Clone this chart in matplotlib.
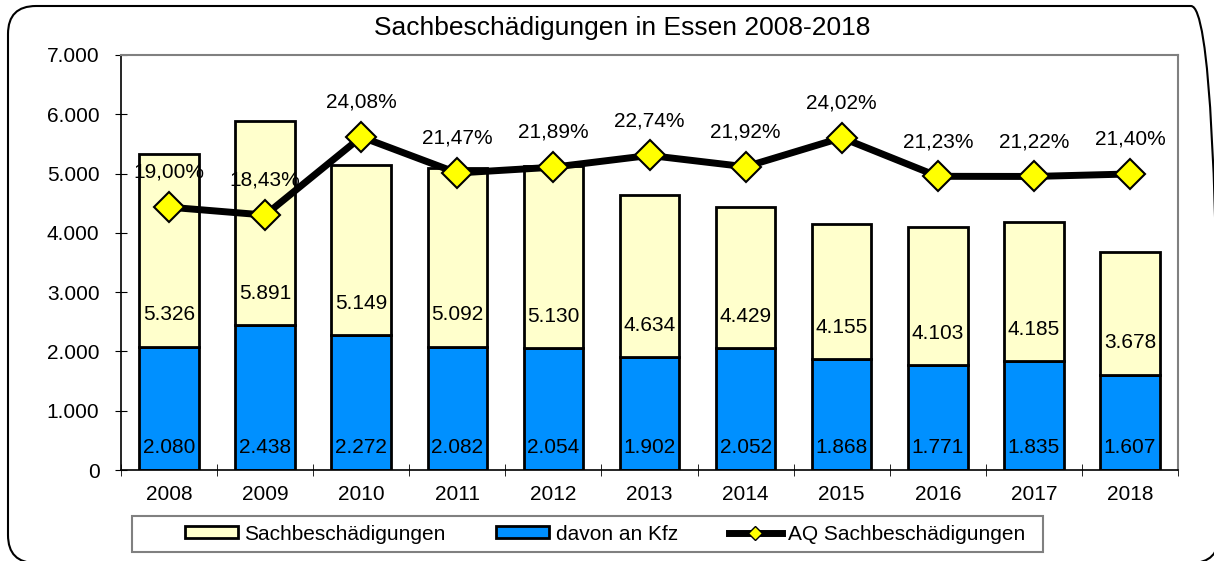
import matplotlib
matplotlib.use("Agg")
import matplotlib.pyplot as plt
from matplotlib.patches import FancyBboxPatch, Rectangle, Patch
from matplotlib.lines import Line2D
import numpy as np

years = ["2008", "2009", "2010", "2011", "2012", "2013", "2014", "2015", "2016", "2017", "2018"]
total = [5326, 5891, 5149, 5092, 5130, 4634, 4429, 4155, 4103, 4185, 3678]
kfz = [2080, 2438, 2272, 2082, 2054, 1902, 2052, 1868, 1771, 1835, 1607]
aq = [19.00, 18.43, 24.08, 21.47, 21.89, 22.74, 21.92, 24.02, 21.23, 21.22, 21.40]
yticks = [0, 1000, 2000, 3000, 4000, 5000, 6000, 7000]

plt.rcParams['font.family'] = ['Liberation Sans', 'DejaVu Sans']
FS = 15

W, H = 1214, 561
fig = plt.figure(figsize=(W / 100, H / 100), dpi=100)

def fx(px): return px / W
def fy(py): return 1 - py / H

# outer rounded frame (pixel coordinates), right/bottom edges just past the canvas
frame = FancyBboxPatch((8, H - 563), 1211, 557,
                       boxstyle="round,pad=0,rounding_size=28",
                       transform=None, fill=False, ec='black', lw=1.5)
fig.patches.append(frame)

ax = fig.add_axes([fx(121), fy(470), fx(1178) - fx(121), fy(55) - fy(470)])
x = np.arange(len(years))
bw = 0.62

def de(v):
    return f"{v:,}".replace(",", ".")

upper = [t - k for t, k in zip(total, kfz)]
ax.bar(x, kfz, bw, color='#0090FF', edgecolor='black', lw=2, zorder=2)
ax.bar(x, upper, bw, bottom=kfz, color='#FFFFCC', edgecolor='black', lw=2, zorder=2)

for i in range(len(years)):
    ax.annotate(de(kfz[i]), (x[i], 0), xytext=(0, 16), textcoords='offset points',
                ha='center', va='center', fontsize=FS, zorder=5)
    ax.annotate(de(total[i]), (x[i], kfz[i]), xytext=(0, 23), textcoords='offset points',
                ha='center', va='center', fontsize=FS, zorder=5)

ax.set_xlim(-0.5, len(years) - 0.5)
ax.set_ylim(0, 7000)
ax.set_yticks(yticks)
ax.set_yticklabels([de(v) for v in yticks], fontsize=FS)
ax.set_xticks(x)
ax.set_xticklabels(years, fontsize=FS)
ax.tick_params(axis='x', length=0, pad=11)
ax.set_xticks(np.arange(-0.5, len(years)), minor=True)
ax.tick_params(axis='x', which='minor', length=9, direction='inout', color='black')
ax.tick_params(axis='y', length=9, direction='inout', pad=11, color='black')
for s in ['top', 'right']:
    ax.spines[s].set_color('#808080')
    ax.spines[s].set_linewidth(1.5)
for s in ['left', 'bottom']:
    ax.spines[s].set_color('black')
    ax.spines[s].set_linewidth(1.2)

ax2 = ax.twinx()
ax2.set_ylim(0, 30)
ax2.plot(x, aq, color='black', lw=5, marker='D', ms=15, mfc='#FFFF00', mec='black', mew=1.5, zorder=6)
for i in range(len(years)):
    ax2.annotate(f"{aq[i]:.2f}%".replace(".", ","), (x[i], aq[i]), xytext=(0, 25),
                 textcoords='offset points', ha='center', va='center', fontsize=FS, zorder=7)
ax2.set_yticks([])
for s in ax2.spines.values():
    s.set_visible(False)

fig.text(fx(622), fy(28), "Sachbeschädigungen in Essen 2008-2018", ha='center', va='center', fontsize=19)

# legend frame
fig.patches.append(Rectangle((fx(132), fy(552)), fx(1043) - fx(132), fy(516) - fy(552),
                             transform=fig.transFigure, fill=False, ec='#808080', lw=1.5))
handles = [Patch(facecolor='#FFFFCC', edgecolor='black', lw=2),
           Patch(facecolor='#0090FF', edgecolor='black', lw=2),
           Line2D([0], [0], color='black', lw=5, marker='D', ms=7, mfc='#FFFF00', mec='black', mew=1)]
labels = ["Sachbeschädigungen", "davon an Kfz", "AQ Sachbeschädigungen"]
leg = fig.legend(handles, labels, loc='center', bbox_to_anchor=(fx(605), fy(534)), ncol=3,
                 fontsize=FS, frameon=False,
                 handlelength=2.55, handleheight=0.55, handletextpad=0.3, columnspacing=2.45,
                 borderpad=0.2)

fig.savefig("out.png", dpi=100)
